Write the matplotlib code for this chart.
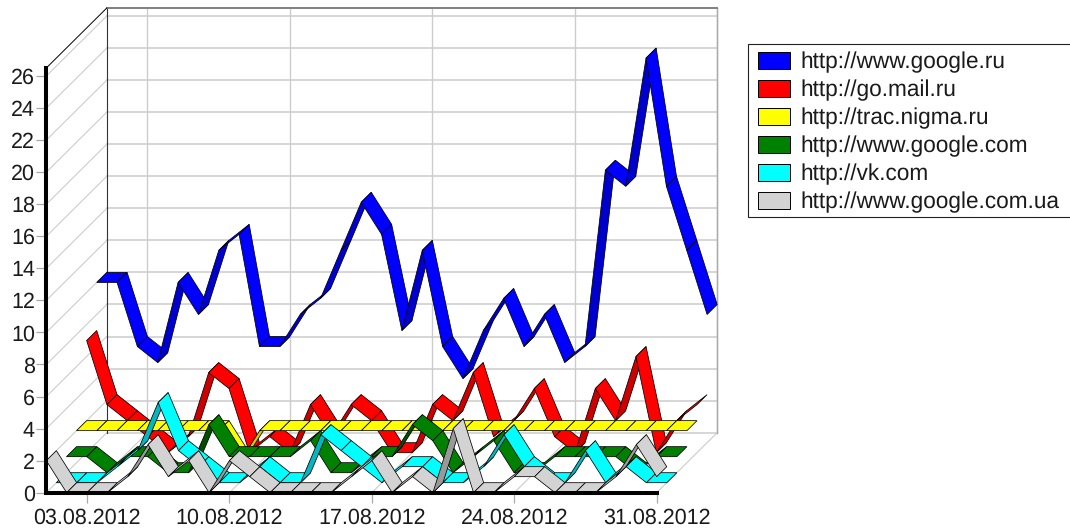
import numpy as np
import matplotlib
matplotlib.use('Agg')
import matplotlib.pyplot as plt
from matplotlib.patches import Patch, Rectangle

plt.rcParams['font.family'] = ['Liberation Sans', 'DejaVu Sans']
plt.rcParams['text.hinting'] = 'no_hinting'

tick_days = [2, 9, 16, 23, 30]
tick_labels = ['03.08.2012', '10.08.2012', '17.08.2012', '24.08.2012', '31.08.2012']
y_ticks = list(range(0, 27, 2))

names = ['http://www.google.ru', 'http://go.mail.ru', 'http://trac.nigma.ru',
         'http://www.google.com', 'http://vk.com', 'http://www.google.com.ua']
colors = ['#0000ff', '#ff0000', '#ffff00', '#008000', '#00ffff', '#d3d3d3']
dark = ['#0000cc', '#cc0000', '#cccc00', '#004d00', '#00b8c0', '#999999']

google_ru = [10, 10, 6, 5, 10, 8, 12, 13, 6, 6, 8, 9, 12, 15, 13, 7, 12, 6, 4, 7, 9, 6, 8, 5, 6, 17, 16, 24, 16, 12, 8]
mail_ru = [7, 3, 2, 1, 0, 1, 5, 4, 0, 1, 0, 3, 1, 3, 2, 0, 0, 3, 2, 5, 1, 2, 4, 1, 0, 4, 2, 6, 0, 2, 3]
nigma = [2, 2, 2, 2, 2, 2, 2, 2, 0, 2, 2, 2, 2, 2, 2, 2, 2, 2, 2, 2, 2, 2, 2, 2, 2, 2, 2, 2, 2, 2, 2]
google_com = [1, 1, 0, 1, 1, 0, 0, 3, 1, 1, 1, 1, 2, 0, 0, 1, 1, 3, 2, 0, 1, 2, 0, 0, 1, 1, 1, 1, 0, 1, 1]
vk = [0, 0, 0, 1, 2, 5, 2, 1, 0, 0, 1, 0, 0, 3, 2, 1, 0, 1, 1, 0, 0, 1, 3, 1, 0, 0, 2, 0, 1, 0, 0]
google_ua = [2, 0, 0, 0, 1, 3, 1, 2, 0, 2, 1, 0, 0, 0, 0, 1, 2, 0, 1, 0, 4, 0, 0, 1, 1, 0, 0, 0, 1, 3, 1]
series = [google_ru, mail_ru, nigma, google_com, vk, google_ua]

W, H = 1070, 532
fig = plt.figure(figsize=(W / 100, H / 100), dpi=100)
# axes = the front plane of the box, everything behind it is shifted by depth
L, R, T, B = 46.3, 656.7, 68.0, 492.7
ax = fig.add_axes([L / W, 1 - B / H, (R - L) / W, (B - T) / H])
ax.set_xlim(0, 30)
ax.set_ylim(0, 26.5)
ax.patch.set_visible(False)

px_x = 30 / (R - L)
px_y = 26.5 / (B - T)
dx = 10.08 * px_x   # one series deep
dy = 10.0 * px_y
n = len(series)
GRID = '#cccccc'

# back wall and floor
back_x0, back_x1 = n * dx, 30 + n * dx
for v in y_ticks:
    ax.plot([back_x0, back_x1], [v + n * dy, v + n * dy], color=GRID, lw=1.1, clip_on=False, zorder=1)
    ax.plot([0, n * dx], [v, v + n * dy], color=GRID, lw=0.8, clip_on=False, zorder=1)
for d in tick_days:
    ax.plot([d + n * dx] * 2, [n * dy, 26.5 + n * dy], color=GRID, lw=1.0, clip_on=False, zorder=1)
    ax.plot([d, d + n * dx], [0, n * dy], color=GRID, lw=0.8, clip_on=False, zorder=1)
ax.plot([back_x0] * 2, [n * dy, 26.5 + n * dy], color='#333333', lw=0.8, clip_on=False, zorder=1.1)
ax.plot([back_x1] * 2, [n * dy, 26.5 + n * dy], color='#aaaaaa', lw=1.0, clip_on=False, zorder=1.1)
ax.plot([back_x0, back_x1], [26.5 + n * dy] * 2, color='#808080', lw=1.4, clip_on=False, zorder=1.1)
ax.plot([0, n * dx], [26.5, 26.5 + n * dy], color='black', lw=0.7, clip_on=False, zorder=1.1)

# ribbons, back series first
days = np.arange(31)
z = 2
for i, vals in enumerate(series):
    k = n - 1 - i
    xf = days + k * dx
    yf = np.array(vals) + k * dy
    for j in range(30):
        # facing the viewer or not depends on slope against the depth direction
        under = (yf[j + 1] - yf[j]) / px_y * 10.08 > 10.0 * (xf[j + 1] - xf[j]) / px_x
        ax.fill([xf[j], xf[j + 1], xf[j + 1] + dx, xf[j] + dx],
                [yf[j], yf[j + 1], yf[j + 1] + dy, yf[j] + dy],
                facecolor=dark[i] if under else colors[i], edgecolor='black', lw=0.55,
                joinstyle='miter', clip_on=False, zorder=z)
        z += 0.001

ax.spines['top'].set_visible(False)
ax.spines['right'].set_visible(False)
for s in ['left', 'bottom']:
    ax.spines[s].set_linewidth(2.9)
    ax.spines[s].set_zorder(5)
ax.set_xticks(tick_days)
ax.set_xticklabels(tick_labels)
ax.set_yticks(y_ticks)
ax.tick_params(axis='both', length=7.2, width=0.9, color='#aaaaaa', labelsize=15.5, labelcolor='#1a1a1a')
ax.tick_params(axis='x', pad=3.5)
ax.tick_params(axis='y', pad=1)

# legend frame runs off the right edge of the picture, so it is a separate box
fig.add_artist(Rectangle((748 / W, 1 - 217 / H), 340 / W, 173 / H, transform=fig.transFigure,
                         facecolor='white', edgecolor='#222222', lw=0.8))
handles = [Patch(facecolor=c, edgecolor='black', lw=0.7, label=nm) for c, nm in zip(colors, names)]
leg = fig.legend(handles=handles, loc='upper left', bbox_to_anchor=(758 / W, 1 - 51.5 / H),
                 bbox_transform=fig.transFigure, fontsize=16.3, frameon=False,
                 borderaxespad=0, borderpad=0,
                 handlelength=1.43, handleheight=0.81, handletextpad=0.46, labelspacing=0.29)
for t in leg.get_texts():
    t.set_color('#1a1a1a')

fig.savefig('out.png', dpi=100)
